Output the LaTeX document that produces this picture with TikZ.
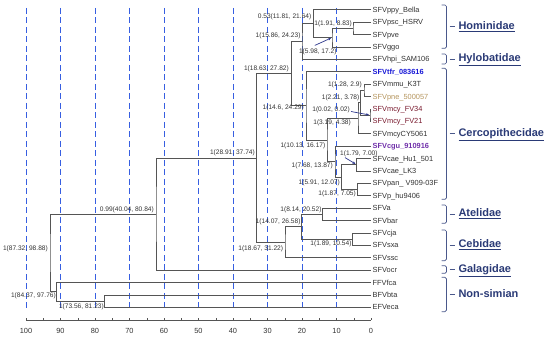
\documentclass[tikz,border=0pt]{standalone}
\usepackage{fontspec}
\setmainfont{Liberation Sans}
\usepackage{tikz}
\usetikzlibrary{arrows.meta,positioning}
\definecolor{trLine}{RGB}{85,85,85}
\definecolor{trGrid}{RGB}{55,95,225}
\definecolor{trText}{RGB}{50,50,50}
\definecolor{trFam}{RGB}{42,58,118}
\definecolor{trArr}{RGB}{45,55,140}
\definecolor{lvBlue}{RGB}{25,25,215}
\definecolor{lvTan}{RGB}{180,148,92}
\definecolor{lvRed}{RGB}{120,25,45}
\definecolor{lvPurp}{RGB}{112,48,170}
\tikzset{
  trEdge/.style={draw=trLine, line width=0.6pt},
  trLeaf/.style={anchor=mid west, inner sep=1.5pt, text=trText,
    font=\fontsize{7.4}{8}\selectfont},
  trSup/.style={anchor=east, inner sep=0pt, text=trText,
    font=\fontsize{6.6}{7.5}\selectfont},
  trGridln/.style={draw=trGrid, line width=0.8pt, dash pattern=on 6pt off 3.5pt},
  trFamily/.style={anchor=mid west, inner sep=0pt, text=trFam,
    font=\fontsize{11}{13}\selectfont\bfseries},
  trBrk/.style={draw=trFam!85, line width=0.7pt, rounded corners=1.5pt},
  trPtr/.style={-{Stealth[length=3pt,width=2.6pt]}, draw=trArr, line width=0.7pt},
  trAxis/.style={draw=trLine, line width=0.5pt},
}

\begin{document}
\begin{tikzpicture}[x=1pt, y=-1pt]
\useasboundingbox (0,0) rectangle (550,339);

%% Time grid (0 at x=371, 3.45 per unit)
\foreach \d in {10,20,...,100}
  \draw[trGridln] ({371-3.45*\d},8) -- ({371-3.45*\d},309);

%% Axis
\draw[trAxis] (26,320) -- (371,320);
\foreach \d in {0,5,...,100}
  \draw[trAxis] ({371-3.45*\d},320) -- ({371-3.45*\d},318);
\foreach \d in {0,10,...,100}
  \node[trSup, anchor=center, font=\fontsize{7.4}{8}\selectfont] (ax\d) at ({371-3.45*\d},331) {\d};

%% Leaves
\node[trLeaf] (lPpy)  at (371,  9.7) {SFVppy\_Bella};
\node[trLeaf] (lPsc)  at (371, 22.1) {SFVpsc\_HSRV};
\node[trLeaf] (lPve)  at (371, 34.5) {SFVpve};
\node[trLeaf] (lGgo)  at (371, 46.9) {SFVggo};
\node[trLeaf] (lHpi)  at (371, 59.3) {SFVhpi\_SAM106};
\node[trLeaf, text=lvBlue, font=\fontsize{7.4}{8}\selectfont\bfseries] (lTfr) at (371, 71.7) {SFVtfr\_083616};
\node[trLeaf] (lMmu)  at (371, 84.1) {SFVmmu\_K3T};
\node[trLeaf, text=lvTan] (lPne) at (371, 96.5) {SFVpne\_500057};
\node[trLeaf, text=lvRed] (lFv34) at (371,108.9) {SFVmcy\_FV34};
\node[trLeaf, text=lvRed] (lFv21) at (371,121.3) {SFVmcy\_FV21};
\node[trLeaf] (lCy)   at (371,133.7) {SFVmcyCY5061};
\node[trLeaf, text=lvPurp, font=\fontsize{7.4}{8}\selectfont\bfseries] (lCgu) at (371,146.1) {SFVcgu\_910916};
\node[trLeaf] (lHu1)  at (371,158.5) {SFVcae\_Hu1\_501};
\node[trLeaf] (lLk3)  at (371,170.9) {SFVcae\_LK3};
\node[trLeaf] (lPan)  at (371,183.3) {SFVpan\_ V909-03F};
\node[trLeaf] (lHu94) at (371,195.7) {SFVp\_hu9406};
\node[trLeaf] (lA)    at (371,208.1) {SFVa};
\node[trLeaf] (lBar)  at (371,220.5) {SFVbar};
\node[trLeaf] (lCja)  at (371,232.9) {SFVcja};
\node[trLeaf] (lSxa)  at (371,245.3) {SFVsxa};
\node[trLeaf] (lSsc)  at (371,257.7) {SFVssc};
\node[trLeaf] (lOcr)  at (371,270.1) {SFVocr};
\node[trLeaf] (lFca)  at (371,282.5) {FFVfca};
\node[trLeaf] (lBta)  at (371,294.9) {BFVbta};
\node[trLeaf] (lEca)  at (371,307.3) {EFVeca};

%% Internal nodes
\coordinate (nPscPve) at (353,28.3);
\coordinate (nGgo)    at (332,37.6);
\coordinate (nPpy)    at (313.3,23.65);
\coordinate (nHom)    at (302,41.5);
\coordinate (nMmuPne) at (364,90.3);
\coordinate (nMcy)    at (370,115.1);
\coordinate (nMac)    at (360.5,102.7);
\coordinate (nMacCy)  at (358,118.2);
\coordinate (nCaeLk)  at (356.7,164.7);
\coordinate (nPanHu)  at (357.5,189.5);
\coordinate (nCae)    at (341.5,177.1);
\coordinate (nCgu)    at (335,161.6);
\coordinate (nCerG)   at (327,139.9);
\coordinate (nCer)    at (306,105.8);
\coordinate (nCat)    at (291.5,73.65);
\coordinate (nAte)    at (322.5,214.3);
\coordinate (nCeb)    at (352.5,239.1);
\coordinate (nPla)    at (301.5,226.7);
\coordinate (nPlaSsc) at (285,242.2);
\coordinate (nSim)    at (256.5,157.9);
\coordinate (nPri)    at (156,214);
\coordinate (nBfEf)   at (104.3,301.1);
\coordinate (nNon)    at (56.7,291.8);
\coordinate (nRoot)   at (50,252.9);

%% Branches
\draw[trEdge] (lPsc.mid west) -| (nPscPve) |- (lPve.mid west);
\draw[trEdge] (nPscPve) -| (nGgo) |- (lGgo.mid west);
\draw[trEdge] (lPpy.mid west) -| (nPpy) |- (nGgo);
\draw[trEdge] (nPpy) -| (nHom) |- (lHpi.mid west);
\draw[trEdge] (lMmu.mid west) -| (nMmuPne) |- (lPne.mid west);
\draw[trEdge] (lFv34.mid west) -| (nMcy) |- (lFv21.mid west);
\draw[trEdge] (nMmuPne) -| (nMac) |- (nMcy);
\draw[trEdge] (nMac) -| (nMacCy) |- (lCy.mid west);
\draw[trEdge] (lHu1.mid west) -| (nCaeLk) |- (lLk3.mid west);
\draw[trEdge] (lPan.mid west) -| (nPanHu) |- (lHu94.mid west);
\draw[trEdge] (nCaeLk) -| (nCae) |- (nPanHu);
\draw[trEdge] (lCgu.mid west) -| (nCgu) |- (nCae);
\draw[trEdge] (nMacCy) -| (nCerG) |- (nCgu);
\draw[trEdge] (lTfr.mid west) -| (nCer) |- (nCerG);
\draw[trEdge] (nHom) -| (nCat) |- (nCer);
\draw[trEdge] (lA.mid west) -| (nAte) |- (lBar.mid west);
\draw[trEdge] (lCja.mid west) -| (nCeb) |- (lSxa.mid west);
\draw[trEdge] (nAte) -| (nPla) |- (nCeb);
\draw[trEdge] (nPla) -| (nPlaSsc) |- (lSsc.mid west);
\draw[trEdge] (nCat) -| (nSim) |- (nPlaSsc);
\draw[trEdge] (nSim) -| (nPri) |- (lOcr.mid west);
\draw[trEdge] (lBta.mid west) -| (nBfEf) |- (lEca.mid west);
\draw[trEdge] (lFca.mid west) -| (nNon) |- (nBfEf);
\draw[trEdge] (nPri) -| (nRoot) |- (nNon);

%% Node supports (posterior, age interval)
\node[trSup] (sPpy)    at (311.5, 17)   {0.53(11.81, 21.64)};
\node[trSup] (sPscPve) at (352, 23.3)   {1(1.91, 8.83)};
\node[trSup] (sHom)    at (300.7, 35.7) {1(15.86, 24.23)};
\node[trSup] (sGgo)    at (336.7, 51.7) {1(5.98, 17.2)};
\node[trSup] (sCat)    at (289, 68.3)   {1(18.63, 27.82)};
\node[trSup] (sMmuPne) at (362, 84.3)   {1(1.28, 2.9)};
\node[trSup] (sMac)    at (359.5, 97.7) {1(2.21, 3.78)};
\node[trSup] (sCer)    at (304, 108)    {1(14.6, 24.29)};
\node[trSup] (sMcy)    at (350, 110)    {1(0.02, 0.02)};
\node[trSup] (sMacCy)  at (351, 122.5)  {1(3.19, 4.38)};
\node[trSup] (sCerG)   at (325.5, 146)  {1(10.13, 16.17)};
\node[trSup] (sSim)    at (255, 152.3)  {1(28.91, 37.74)};
\node[trSup, anchor=west] (sCaeLk) at (340, 153.3) {1(1.79, 7.00)};
\node[trSup] (sCgu)    at (333, 165.7)  {1(7.68, 13.87)};
\node[trSup] (sCae)    at (340, 182.5)  {1(5.91, 12.07)};
\node[trSup] (sPanHu)  at (356, 194)    {1(1.87, 7.05)};
\node[trSup] (sPri)    at (154, 209.3)  {0.99(40.04, 80.84)};
\node[trSup] (sAte)    at (321.7, 210)  {1(8.14, 20.52)};
\node[trSup] (sPla)    at (300.7, 221.7) {1(14.07, 26.58)};
\node[trSup] (sCeb)    at (351.7, 243.3) {1(1.89, 10.54)};
\node[trSup] (sPlaSsc) at (283.3, 248.3) {1(18.67, 31.22)};
\node[trSup] (sRoot)   at (48, 248.3)   {1(87.32, 98.88)};
\node[trSup] (sNon)    at (56, 296)     {1(84.37, 97.76)};
\node[trSup] (sBfEf)   at (104, 306.7)  {1(73.56, 81.23)};

%% Pointers for crowded labels
\draw[trPtr, shorten >=1pt] ([xshift=-3pt,yshift=3pt]sGgo.north) -- (nGgo);
\draw[trPtr, shorten >=1pt] ([xshift=1pt,yshift=-1.5pt]sMcy.east) -- (nMcy);
\draw[trPtr, shorten >=1.5pt] ([xshift=5pt,yshift=-1pt]sCaeLk.south west) -- (nCaeLk);

%% Family brackets
\foreach \ya/\yb in {5/48.3, 54/64, 68.3/199.3, 205/223.3, 230/260.7, 265.7/273.3, 277.3/311.7} {
  \draw[trBrk] (441.5,\ya) -- (446.5,\ya) -- (446.5,\yb) -- (441.5,\yb);
  \draw[trBrk] (449.5,{(\ya+\yb)/2}) -- (454.5,{(\ya+\yb)/2});
}

%% Family names
\node[trFamily] (fHom) at (458.3, 26.7)  {\underline{Hominidae}};
\node[trFamily] (fHyl) at (458.3, 59)    {\underline{Hylobatidae}};
\node[trFamily] (fCer) at (458.3, 133.7) {\underline{Cercopithecidae}};
\node[trFamily] (fAte) at (458.3, 214.2) {\underline{Atelidae}};
\node[trFamily] (fCeb) at (458.3, 245.3) {\underline{Cebidae}};
\node[trFamily] (fGal) at (458.3, 269.5) {\underline{Galagidae}};
\node[trFamily] (fNon) at (458.3, 294.5) {Non-simian};

\end{tikzpicture}
\end{document}
